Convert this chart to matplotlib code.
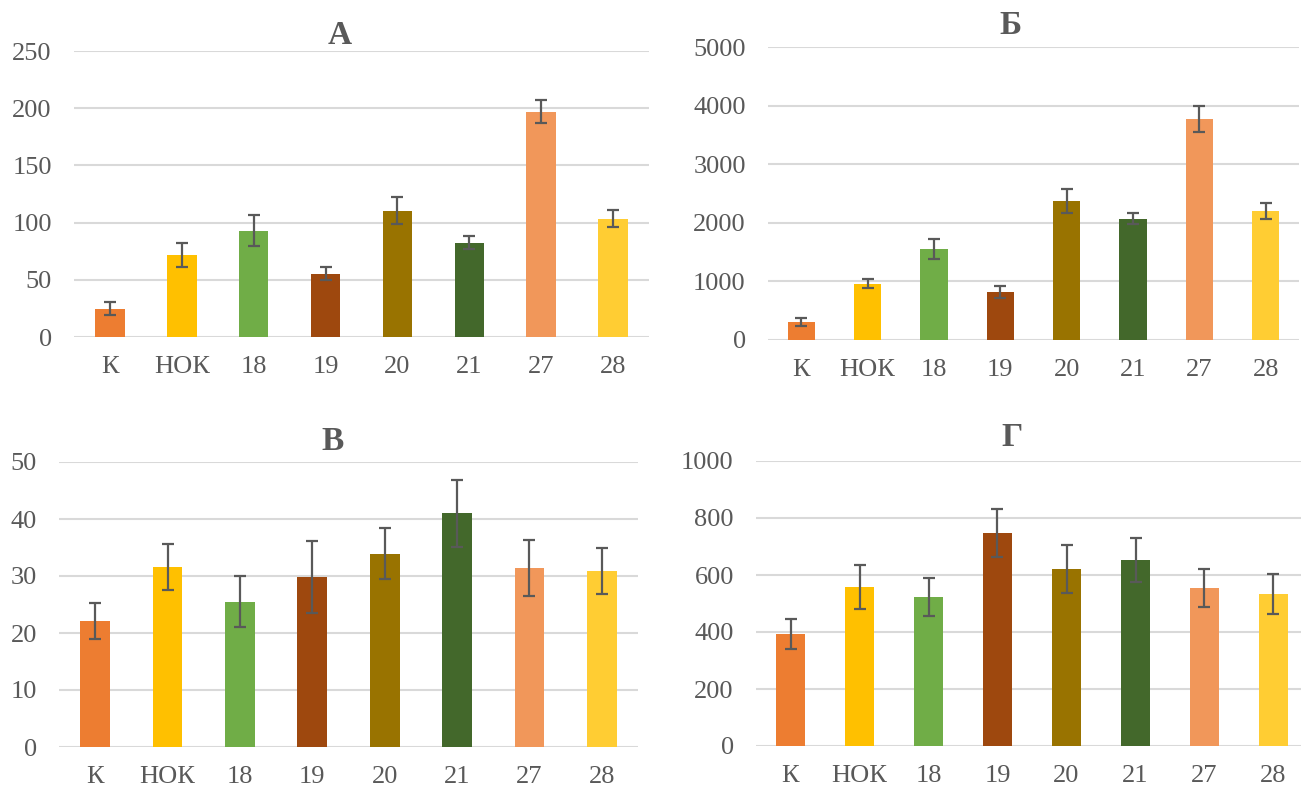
import numpy as np
import matplotlib.pyplot as plt

plt.rcParams['font.family'] = ['Liberation Serif', 'DejaVu Serif']

groups = ['К', 'НОК', '18', '19', '20', '21', '27', '28']
bar_colors = ['#ED7D31', '#FFC000', '#70AD47', '#9E480E',
              '#997300', '#43682B', '#F1975A', '#FFCD33']

# panel A
a_vals = [24.8, 72, 93, 55.5, 110.5, 82.5, 197, 103.5]
a_err = [5.4, 10.6, 13.5, 5.7, 11.8, 5.5, 9.9, 7.5]
# panel Б
b_vals = [307, 956, 1553, 819, 2372, 2065, 3771, 2201]
b_err = [75, 77, 168, 108, 197, 94, 225, 142]
# panel В
v_vals = [22.1, 31.6, 25.5, 29.8, 33.9, 41.0, 31.4, 30.9]
v_err = [3.1, 4.1, 4.5, 6.3, 4.45, 5.85, 4.9, 4.0]
# panel Г
g_vals = [393, 558, 523, 746, 620, 652, 554, 533]
g_err = [54, 77, 68, 84, 84.5, 78, 66, 71]

W, H = 1301, 794
fig = plt.figure(figsize=(W / 100, H / 100), dpi=100)

panels = [
    # values, errors, title, ymax, ystep, (left, right, top, bottom) px, title pos px
    (a_vals, a_err, 'А', 250, 50, (74, 649, 51, 337), (340, 35)),
    (b_vals, b_err, 'Б', 5000, 1000, (768, 1299, 47, 340), (1010, 25)),
    (v_vals, v_err, 'В', 50, 10, (59, 638, 462, 747), (333, 442)),
    (g_vals, g_err, 'Г', 1000, 200, (756, 1308, 461, 746), (1012, 437)),
]

grey = '#595959'
x = np.arange(len(groups))

for vals, err, title, ymax, ystep, (l, r, t, b), (tx, ty) in panels:
    ax = fig.add_axes([l / W, 1 - b / H, (r - l) / W, (b - t) / H])
    ax.bar(x, vals, width=0.41, color=bar_colors, zorder=2)
    ax.errorbar(x, vals, yerr=err, fmt='none', ecolor=grey,
                elinewidth=1.6, capsize=4.5, capthick=1.6, zorder=3)
    ax.set_xlim(-0.5, len(groups) - 0.5)
    ax.set_ylim(0, ymax)
    ax.set_yticks(np.arange(0, ymax + 1, ystep))
    ax.yaxis.grid(True, color='#D9D9D9', linewidth=1.5, zorder=0)
    ax.set_axisbelow(True)
    for s in ax.spines.values():
        s.set_visible(False)
    ax.set_xticks(x)
    ax.set_xticklabels(groups)
    ax.tick_params(axis='both', length=0, labelsize=19, labelcolor=grey)
    ax.tick_params(axis='x', pad=14)
    ax.tick_params(axis='y', pad=16)
    ax.set_clip_on(False)
    fig.text(tx / W, 1 - ty / H, title, fontsize=24, fontweight='bold',
             color=grey, ha='center', va='center')

fig.savefig('out.png', dpi=100)
